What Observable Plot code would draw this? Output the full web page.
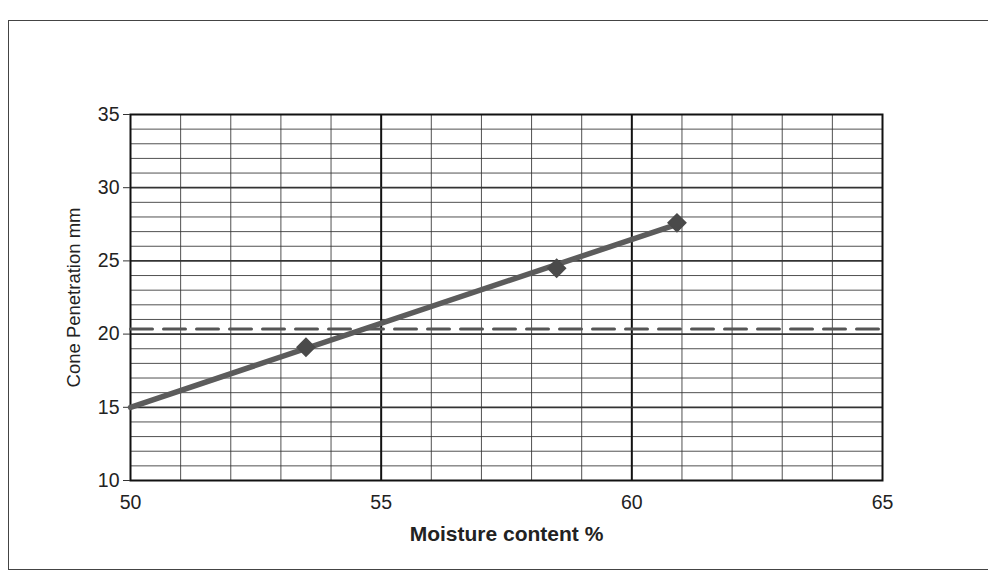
<!DOCTYPE html>
<html>
<head>
<meta charset="utf-8">
<script src="https://cdn.jsdelivr.net/npm/d3@7"></script>
<script src="https://cdn.jsdelivr.net/npm/@observablehq/plot@0.6"></script>
<style>
  html, body { margin: 0; padding: 0; background: #fff; }
  #frame { position: absolute; left: 8px; top: 20px; width: 990px; height: 548px;
           border-left: 1.5px solid #444; border-top: 1.5px solid #444; border-bottom: 1.5px solid #444; }
  #chart { position: absolute; left: 0; top: 0; }
  #chart svg g[aria-label$="tick label"] text { font-size: 19.5px; }
</style>
</head>
<body>
<div id="frame"></div>
<div id="chart"></div>
<script>
// Data points (moisture %, cone penetration mm)
const moisture = [53.5, 58.5, 60.9];
const penetration = [19.1, 24.5, 27.6];
// Trend line endpoints
const trendX = [50, 60.9];
const trendY = [15.0, 27.5];
// Dashed reference line (as drawn)
const refX = [50, 65];
const refY = [20.35, 20.35];
// Tick / grid values
const xTicks = [50, 55, 60, 65];
const yTicks = [10, 15, 20, 25, 30, 35];
const xMajorGrid = [55, 60];
const xMinorGrid = [51, 52, 53, 54, 56, 57, 58, 59, 61, 62, 63, 64];
const yMajorGrid = [15, 20, 25, 30];
const yMinorGrid = [11, 12, 13, 14, 16, 17, 18, 19, 21, 22, 23, 24, 26, 27, 28, 29, 31, 32, 33, 34];

const points = moisture.map((m, i) => ({x: m, y: penetration[i]}));
const trend = trendX.map((m, i) => ({x: m, y: trendY[i]}));
const ref = refX.map((m, i) => ({x: m, y: refY[i]}));

const chart = Plot.plot({
  width: 988,
  height: 572,
  marginLeft: 130,
  marginRight: 106,
  marginTop: 114,
  marginBottom: 92,
  style: { fontFamily: "Liberation Sans, Arial, sans-serif", fontSize: "19px", color: "#222", background: "transparent" },
  x: { domain: [50, 65], ticks: xTicks, label: null },
  y: { domain: [10, 35], ticks: yTicks, label: null },
  marks: [
    Plot.ruleX(xMinorGrid, { stroke: "#333", strokeWidth: 1, strokeOpacity: 0.85 }),
    Plot.ruleY(yMinorGrid, { stroke: "#333", strokeWidth: 1, strokeOpacity: 0.85 }),
    Plot.ruleX(xMajorGrid, { stroke: "#111", strokeWidth: 2 }),
    Plot.ruleY(yMajorGrid, { stroke: "#333", strokeWidth: 1.8 }),
    Plot.frame({ stroke: "#111", strokeWidth: 2 }),
    Plot.axisX({ ticks: xTicks, tickSize: 0, tickPadding: 15, label: null }),
    Plot.axisY({ ticks: yTicks, tickSize: 7, tickPadding: 4, label: null, stroke: "#333" }),
    Plot.line(ref, { x: "x", y: "y", stroke: "#555", strokeWidth: 3, strokeDasharray: "22,11" }),
    Plot.line(trend, { x: "x", y: "y", stroke: "#5c5c5c", strokeWidth: 5.5 }),
    Plot.dot(points, { x: "x", y: "y", symbol: "diamond2", r: 8, fill: "#4a4a4a", stroke: "#4a4a4a" }),
    Plot.text(["Moisture content %"], { frameAnchor: "bottom", dy: 60, fontSize: 21, fontWeight: "bold", fill: "#222" }),
    Plot.text(["Cone Penetration mm"], { frameAnchor: "left", textAnchor: "middle", dx: -56, rotate: -90, fontSize: 18.5, fill: "#222" })
  ]
});
document.getElementById("chart").appendChild(chart);
</script>
</body>
</html>
